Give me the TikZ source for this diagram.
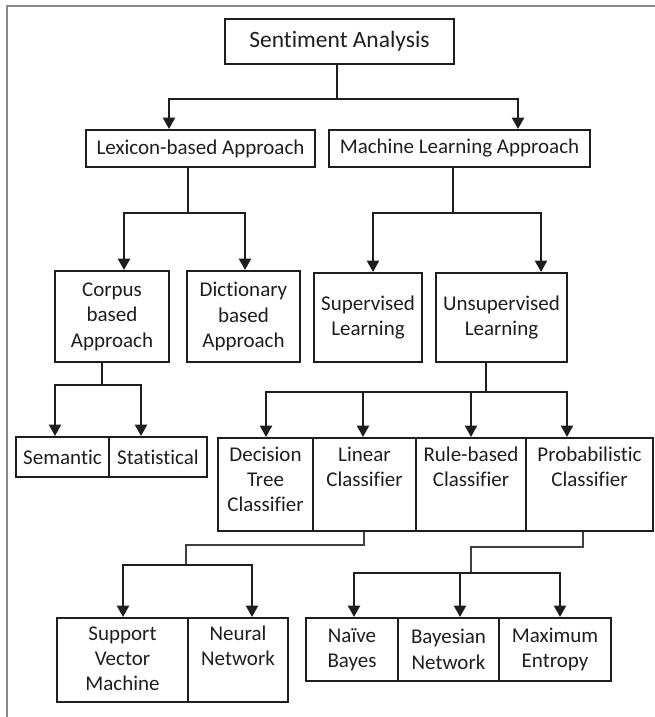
\documentclass[tikz,border=0pt]{standalone}
\usepackage{fontspec}
\setmainfont{Carlito}[Ligatures=NoCommon]
\usetikzlibrary{arrows.meta}
\newdimen\unitpx \unitpx=0.75pt
\newcommand\pbx[4]{\parbox[c][#2\unitpx][#3]{#1\unitpx}{\centering #4\par}}
\newcommand\tl[1]{\rule{0pt}{#1\unitpx}}
\definecolor{ink}{HTML}{1E1E1E}
\definecolor{framegray}{HTML}{8A8A8A}
\begin{document}
\begin{tikzpicture}[x=0.75pt,y=-0.75pt,
 box/.style={draw=ink, line width=1.5pt, inner sep=0pt, text=ink, font=\fontsize{15.75pt}{19.1pt}\selectfont},
 arr/.style={draw=ink, line width=1.6pt, -{Triangle[width=9pt,length=8.5pt]}},
 stem/.style={draw=ink, line width=1.2pt},
 elbow/.style={draw=ink!85, line width=1.1pt}]
\useasboundingbox (0,0) rectangle (655,717);
\draw[framegray, line width=1.2pt] (7,717) -- (7,6) -- (655,6);

\node[box, font=\fontsize{17.6pt}{21pt}\selectfont] (SA) at (339.5,41.5) {\pbx{229}{45}{c}{Sentiment Analysis}};
\node[box] (Lex) at (200.5,148.5) {\pbx{229}{37}{c}{Lexicon-based Approach}};
\node[box] (ML) at (459.5,148.5) {\pbx{261}{37}{c}{Machine Learning Approach}};
\node[box] (Cor) at (112,316.5) {\pbx{114}{91}{c}{Corpus\\based\\Approach}};
\node[box] (Dic) at (243.5,316.5) {\pbx{113}{91}{c}{Dictionary\\based\\Approach}};
\node[box] (Sup) at (368,317.5) {\pbx{108}{89}{c}{Supervised\\Learning}};
\node[box] (Uns) at (501.5,317.5) {\pbx{131}{89}{c}{Unsupervised\\Learning}};
\node[box] (Sem) at (62.5,457) {\pbx{93}{40}{c}{Semantic}};
\node[box] (Sta) at (158,457) {\pbx{98}{40}{c}{Statistical}};
\node[box] (Dec) at (265.5,484.5) {\pbx{95}{93}{t}{\tl{23}Decision\\Tree\\Classifier}};
\node[box] (Lin) at (364.5,484.5) {\pbx{103}{93}{t}{\tl{23}Linear\\Classifier}};
\node[box] (Rul) at (471,484.5) {\pbx{110}{93}{t}{\tl{23}Rule-based\\Classifier}};
\node[box] (Pro) at (589.5,484.5) {\pbx{127}{93}{t}{\tl{23}Probabilistic\\Classifier}};
\node[box] (SVM) at (122.5,660) {\pbx{131}{84}{t}{\tl{22}Support\\Vector\\Machine}};
\node[box] (NN) at (238,660) {\pbx{100}{84}{t}{\tl{22}Neural\\Network}};
\node[box] (NB) at (352,649.5) {\pbx{92}{63}{c}{Naïve\\Bayes}};
\node[box] (BN) at (448.5,649.5) {\pbx{101}{63}{c}{Bayesian\\Network}};
\node[box] (ME) at (555,649.5) {\pbx{112}{63}{c}{Maximum\\Entropy}};

% Sentiment Analysis
\coordinate (a1) at (337,99); \coordinate (a1L) at (169,99); \coordinate (a1R) at (518,99);
\draw[stem] (SA.south -| a1) -- (a1);
\draw[arr] (a1) -| (a1L |- Lex.north);
\draw[arr] (a1) -| (a1R |- ML.north);
% Lexicon
\coordinate (a2) at (188,213); \coordinate (a2L) at (124,213); \coordinate (a2R) at (245,213);
\draw[stem] (Lex.south -| a2) -- (a2);
\draw[arr] (a2) -| (a2L |- Cor.north);
\draw[arr] (a2) -| (a2R |- Dic.north);
% Machine learning
\coordinate (a3) at (453,213); \coordinate (a3L) at (373,213); \coordinate (a3R) at (541,213);
\draw[stem] (ML.south -| a3) -- (a3);
\draw[arr] (a3) -| (a3L |- Sup.north);
\draw[arr] (a3) -| (a3R |- Uns.north);
% Corpus
\coordinate (a4) at (102,385); \coordinate (a4L) at (55,385); \coordinate (a4R) at (141,385);
\draw[stem] (Cor.south -| a4) -- (a4);
\draw[arr] (a4) -| (a4L |- Sem.north);
\draw[arr] (a4) -| (a4R |- Sta.north);
% Unsupervised
\coordinate (a5) at (486,392); \coordinate (a5a) at (266,392); \coordinate (a5b) at (363,392);
\coordinate (a5c) at (471,392); \coordinate (a5d) at (567,392);
\draw[stem] (Uns.south -| a5) -- (a5);
\draw[arr] (a5) -| (a5a |- Dec.north);
\draw[arr] (a5b) -- (a5b |- Lin.north);
\draw[arr] (a5c) -- (a5c |- Rul.north);
\draw[arr] (a5) -| (a5d |- Pro.north);
% Linear classifier
\coordinate (e1) at (364,545); \coordinate (e2) at (186,545);
\coordinate (a6) at (186,565); \coordinate (a6L) at (123,565); \coordinate (a6R) at (252,565);
\draw[elbow] (Lin.south -| e1) -- (e1) -- (e2) -- (a6);
\draw[arr] (a6) -| (a6L |- SVM.north);
\draw[arr] (a6) -| (a6R |- NN.north);
% Probabilistic classifier
\coordinate (e3) at (583,547); \coordinate (e4) at (471,547);
\coordinate (a7) at (471,573); \coordinate (a7a) at (354,573); \coordinate (a7b) at (460,573); \coordinate (a7c) at (560,573);
\draw[elbow] (Pro.south -| e3) -- (e3) -- (e4) -- (a7);
\draw[arr] (a7) -| (a7a |- NB.north);
\draw[arr] (a7b) -- (a7b |- BN.north);
\draw[arr] (a7) -| (a7c |- ME.north);
\end{tikzpicture}
\end{document}
